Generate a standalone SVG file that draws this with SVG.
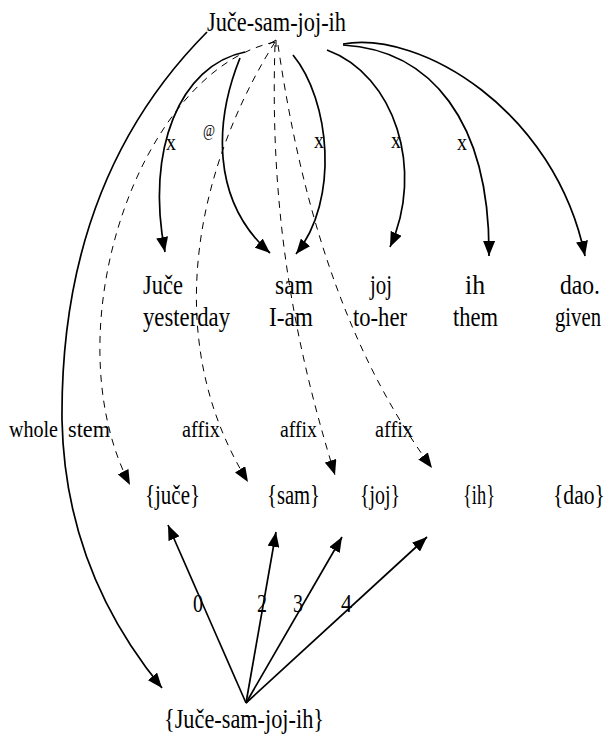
<svg xmlns="http://www.w3.org/2000/svg" width="613" height="736" viewBox="0 0 613 736" font-family="'Liberation Serif', serif">
<defs>
<style>
text{font-family:'Liberation Serif',serif;fill:#000}
.w{font-size:27px}
.t{font-size:28px}
.l{font-size:23px}
.s{font-size:24px}
.a{font-size:16px}
.n{font-size:26px}
.e{fill:none;stroke:#000;stroke-width:1.7}
.d{fill:none;stroke:#000;stroke-width:1;stroke-dasharray:7,6}
</style>
<marker id="ah" markerUnits="userSpaceOnUse" markerWidth="16" markerHeight="12" refX="15" refY="6" orient="auto">
<path d="M0,0 L15,6 L0,12 z" fill="#000"/>
</marker>
</defs>
<g id="connectors">
<path class="e" d="M207,32 Q60,180 62,420 Q65,570 162,688" marker-end="url(#ah)"/>
<path class="d" d="M275,42 C140,70 50,330 130,485" marker-end="url(#ah)"/>
<path class="d" d="M275,42 C195,170 160,340 248,482" marker-end="url(#ah)"/>
<path class="d" d="M275,45 C270,200 290,330 335,475" marker-end="url(#ah)"/>
<path class="d" d="M278,45 C295,160 330,330 432,468" marker-end="url(#ah)"/>
<path fill="none" stroke="#000" stroke-width="1" d="M269,44 L276,40 L276,47"/>
<path class="e" d="M245,52 C180,65 145,150 165,252" marker-end="url(#ah)"/>
<path class="e" d="M240,58 C215,120 210,200 270,253" marker-end="url(#ah)"/>
<path class="e" d="M293,55 C330,100 340,200 296,254" marker-end="url(#ah)"/>
<path class="e" d="M327,50 C395,75 425,170 390,247" marker-end="url(#ah)"/>
<path class="e" d="M343,45 C430,50 490,120 489,256" marker-end="url(#ah)"/>
<path class="e" d="M343,44 C420,30 555,110 585,256" marker-end="url(#ah)"/>
<path class="e" d="M246,703 L168,525" marker-end="url(#ah)"/>
<path class="e" d="M246,703 L276,532" marker-end="url(#ah)"/>
<path class="e" d="M246,703 L342,537" marker-end="url(#ah)"/>
<path class="e" d="M246,703 L427,537" marker-end="url(#ah)"/>
<text class="s" x="166" y="150" textLength="10" lengthAdjust="spacingAndGlyphs">x</text>
<text class="a" x="203" y="136" textLength="12" lengthAdjust="spacingAndGlyphs">@</text>
<text class="s" x="314" y="148" textLength="10" lengthAdjust="spacingAndGlyphs">x</text>
<text class="s" x="391" y="148" textLength="10" lengthAdjust="spacingAndGlyphs">x</text>
<text class="s" x="457" y="150" textLength="10" lengthAdjust="spacingAndGlyphs">x</text>
<text class="l" x="9" y="437" textLength="49" lengthAdjust="spacingAndGlyphs">whole</text>
<text class="l" x="68" y="437" textLength="42" lengthAdjust="spacingAndGlyphs">stem</text>
<text class="l" x="182" y="437" textLength="38" lengthAdjust="spacingAndGlyphs">affix</text>
<text class="l" x="280" y="437" textLength="37" lengthAdjust="spacingAndGlyphs">affix</text>
<text class="l" x="375" y="437" textLength="38" lengthAdjust="spacingAndGlyphs">affix</text>
<text class="n" x="193" y="612" textLength="10" lengthAdjust="spacingAndGlyphs">0</text>
<text class="n" x="257" y="612" textLength="10" lengthAdjust="spacingAndGlyphs">2</text>
<text class="n" x="293" y="612" textLength="10" lengthAdjust="spacingAndGlyphs">3</text>
<text class="n" x="341" y="612" textLength="11" lengthAdjust="spacingAndGlyphs">4</text>
</g>
<g id="root"><text class="t" x="207" y="31" textLength="139" lengthAdjust="spacingAndGlyphs">Juče-sam-joj-ih</text></g>
<g id="w-juce"><text class="w" x="143" y="294" textLength="40" lengthAdjust="spacingAndGlyphs">Juče</text><text class="w" x="143" y="326" textLength="87" lengthAdjust="spacingAndGlyphs">yesterday</text></g>
<g id="w-sam"><text class="w" x="275" y="294" textLength="38" lengthAdjust="spacingAndGlyphs">sam</text><text class="w" x="269" y="326" textLength="44" lengthAdjust="spacingAndGlyphs">I-am</text></g>
<g id="w-joj"><text class="w" x="370" y="294" textLength="22" lengthAdjust="spacingAndGlyphs">joj</text><text class="w" x="353" y="326" textLength="54" lengthAdjust="spacingAndGlyphs">to-her</text></g>
<g id="w-ih"><text class="w" x="465" y="294" textLength="20" lengthAdjust="spacingAndGlyphs">ih</text><text class="w" x="453" y="326" textLength="45" lengthAdjust="spacingAndGlyphs">them</text></g>
<g id="w-dao"><text class="w" x="560" y="294" textLength="40" lengthAdjust="spacingAndGlyphs">dao.</text><text class="w" transform="translate(555,326) scale(0.767,1)">given</text></g>
<g id="m-juce"><text class="w" x="145" y="504" textLength="55" lengthAdjust="spacingAndGlyphs">{juče}</text></g>
<g id="m-sam"><text class="w" x="267" y="504" textLength="53" lengthAdjust="spacingAndGlyphs">{sam}</text></g>
<g id="m-joj"><text class="w" x="360" y="504" textLength="40" lengthAdjust="spacingAndGlyphs">{joj}</text></g>
<g id="m-ih"><text class="w" x="463" y="504" textLength="32" lengthAdjust="spacingAndGlyphs">{ih}</text></g>
<g id="m-dao"><text class="w" transform="translate(553,504) scale(0.8,1)">{dao}</text></g>
<g id="stem"><text class="w" x="164" y="728" textLength="160" lengthAdjust="spacingAndGlyphs">{Juče-sam-joj-ih}</text></g>
</svg>
